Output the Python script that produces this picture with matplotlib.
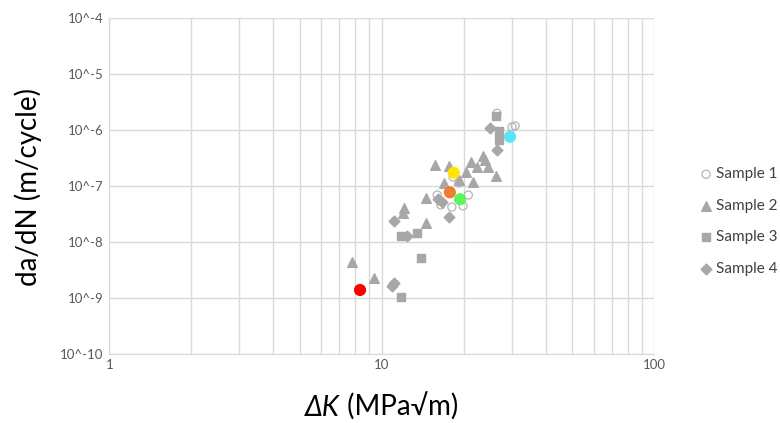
import matplotlib
matplotlib.use("Agg")
import matplotlib.pyplot as plt

# --- 数据 ---
s1_dk = [16.0, 16.5, 18.1, 19.9, 20.8, 19.2, 18.3, 26.5, 30.1, 30.9]
s1_rate = [6.9e-8, 4.6e-8, 4.2e-8, 4.4e-8, 6.9e-8, 1.13e-7, 1.45e-7, 2.0e-6, 1.14e-6, 1.19e-6]

s2_dk = [7.76, 9.37, 12.1, 12.0, 14.6, 14.5, 15.7, 17.6, 16.9, 19.3, 21.6, 21.2,
         23.5, 24.0, 24.6, 26.4, 20.4, 22.3]
s2_rate = [4.3e-9, 2.3e-9, 4.0e-8, 3.3e-8, 2.2e-8, 6.0e-8, 2.4e-7, 2.3e-7, 1.15e-7,
           1.28e-7, 1.19e-7, 2.72e-7, 3.44e-7, 2.92e-7, 2.21e-7, 1.51e-7, 1.8e-7, 2.21e-7]

s3_dk = [11.8, 13.5, 14.0, 11.8, 26.4, 26.9, 26.9]
s3_rate = [1.28e-8, 1.43e-8, 5.1e-9, 1.05e-9, 1.82e-6, 9.6e-7, 6.65e-7]

s4_dk = [10.9, 11.1, 11.1, 12.4, 16.1, 16.6, 17.6, 25.0, 26.5]
s4_rate = [1.6e-9, 1.85e-9, 2.4e-8, 1.28e-8, 5.8e-8, 5.2e-8, 2.75e-8, 1.08e-6, 4.4e-7]

# 彩色标记点
hl_dk = [8.33, 18.4, 17.8, 19.4, 29.6]
hl_rate = [1.38e-9, 1.73e-7, 7.7e-8, 5.8e-8, 7.6e-7]
hl_colors = ['#FF0000', '#FFE500', '#ED7D31', '#5CF55C', '#5CE5FA']

y_ticks = [1e-4, 1e-5, 1e-6, 1e-7, 1e-8, 1e-9, 1e-10]
y_tick_labels = ['10^-4', '10^-5', '10^-6', '10^-7', '10^-8', '10^-9', '10^-10']
x_ticks = [1, 10, 100]

plt.rcParams['font.family'] = ['Lato', 'DejaVu Sans']

gray = '#A9A6A6'
grid_c = '#D9D9D9'
text_c = '#595959'

fig = plt.figure(figsize=(7.8, 4.23), dpi=100)
ax = fig.add_axes([0.1401, 0.1638, 0.8385 - 0.1401, 0.9567 - 0.1638])

ax.scatter(s1_dk, s1_rate, s=34, facecolors='none', edgecolors='#B5B5B5',
           linewidths=0.9, label='Sample 1', zorder=3)
ax.scatter(s2_dk, s2_rate, s=48, marker='^', color=gray, label='Sample 2', zorder=3)
ax.scatter(s3_dk, s3_rate, s=40, marker='s', color=gray, label='Sample 3', zorder=3)
ax.scatter(s4_dk, s4_rate, s=30, marker='D', color=gray, label='Sample 4', zorder=3)
ax.scatter(hl_dk, hl_rate, s=60, c=hl_colors, zorder=4)

ax.set_xscale('log')
ax.set_yscale('log')
ax.set_xlim(1, 100)
ax.set_ylim(1e-10, 1e-4)

ax.set_xticks(x_ticks)
ax.set_xticklabels([str(v) for v in x_ticks])
ax.set_yticks(y_ticks)
ax.set_yticklabels(y_tick_labels)
ax.set_xticks([m * d for d in (1, 10) for m in range(2, 10)], minor=True)
ax.set_xticklabels([], minor=True)
ax.yaxis.set_minor_locator(matplotlib.ticker.NullLocator())

ax.grid(True, which='major', color=grid_c, linewidth=1.0)
ax.grid(True, which='minor', axis='x', color=grid_c, linewidth=1.0)
ax.tick_params(which='both', length=0, colors=text_c, labelsize=9.5, pad=4)
for side in ['top', 'right']:
    ax.spines[side].set_visible(False)
for side in ['left', 'bottom']:
    ax.spines[side].set_color(grid_c)
ax.set_axisbelow(True)

# 坐标轴标题
fig.text(28.5 / 780, 0.557, 'da/dN (m/cycle)', fontsize=20, rotation=90,
         ha='center', va='center')
t1 = fig.text(0.5, 0.016, 'ΔK', fontsize=20, style='italic', ha='left', va='baseline')
t2 = fig.text(0.5, 0.016, ' (MPa√m)', fontsize=20, ha='left', va='baseline')
fig.canvas.draw()
r = fig.canvas.get_renderer()
w1 = t1.get_window_extent(r).width
w2 = t2.get_window_extent(r).width
x0 = 381.6 - (w1 + w2) / 2
t1.set_x(x0 / 780)
t2.set_x((x0 + w1) / 780)

leg = fig.legend(loc='center left', bbox_to_anchor=(0.8954, 0.476), frameon=False,
                 fontsize=11, handletextpad=0.15, labelspacing=1.15, handlelength=1.0,
                 borderpad=0, borderaxespad=0, labelcolor='#404040')

fig.savefig('out.png', dpi=100)
